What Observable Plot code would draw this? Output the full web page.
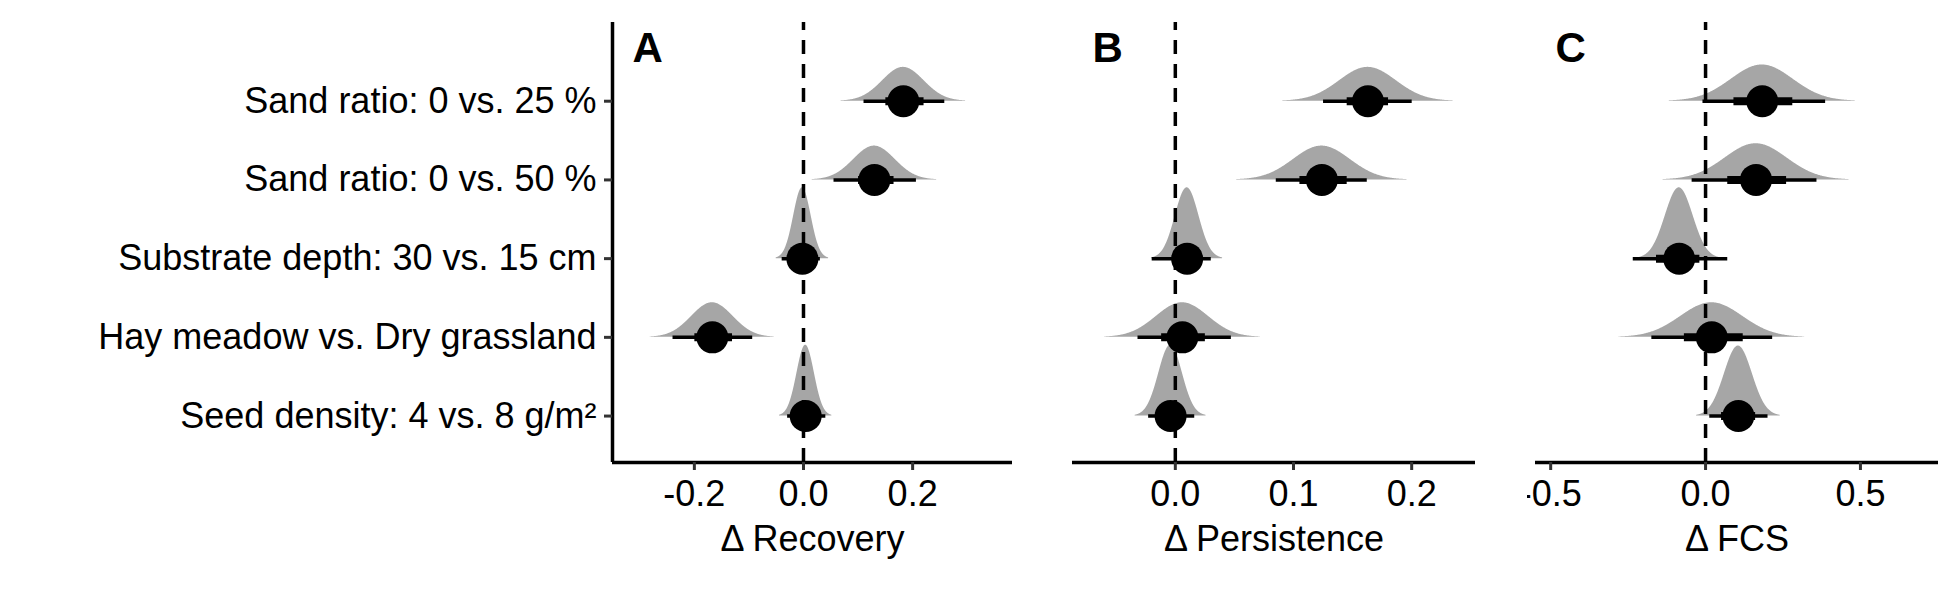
<!DOCTYPE html>
<html><head><meta charset="utf-8">
<script src="https://cdn.jsdelivr.net/npm/d3@7"></script>
<script src="https://cdn.jsdelivr.net/npm/@observablehq/plot@0.6"></script>
<style>
body{margin:0;background:#fff;font-family:"Liberation Sans",Arial,sans-serif;}
.p{position:absolute;top:0;}
</style></head><body>
<div id="a" class="p"></div><div id="b" class="p"></div><div id="c" class="p"></div>
<script>
const contrasts = ["Sand ratio: 0 vs. 25 %", "Sand ratio: 0 vs. 50 %", "Substrate depth: 30 vs. 15 cm", "Hay meadow vs. Dry grassland", "Seed density: 4 vs. 8 g/m²"];
const rows = [5, 4, 3, 2, 1];

// Recovery
const recMean = [0.183, 0.13, -0.002, -0.167, 0.004];
const recSd = [0.038, 0.038, 0.016, 0.038, 0.016];
const recLo95 = [0.11, 0.055, -0.04, -0.24, -0.03];
const recHi95 = [0.258, 0.206, 0.03, -0.094, 0.04];
const recLo66 = [0.15, 0.1, -0.02, -0.2, -0.012];
const recHi66 = [0.22, 0.165, 0.015, -0.131, 0.02];
const recPeak = [0.43, 0.43, 0.9, 0.44, 0.9];

// Persistence
const perMean = [0.163, 0.124, 0.01, 0.006, -0.004];
const perSd = [0.024, 0.024, 0.01, 0.022, 0.01];
const perLo95 = [0.125, 0.085, -0.02, -0.032, -0.023];
const perHi95 = [0.2, 0.162, 0.03, 0.047, 0.016];
const perLo66 = [0.145, 0.105, 0, -0.012, -0.012];
const perHi66 = [0.18, 0.145, 0.02, 0.025, 0.006];
const perPeak = [0.43, 0.43, 0.9, 0.44, 0.9];

// FCS
const fcsMean = [0.183, 0.163, -0.085, 0.02, 0.106];
const fcsSd = [0.1, 0.1, 0.045, 0.1, 0.045];
const fcsLo95 = [-0.01, -0.045, -0.235, -0.175, 0.012];
const fcsHi95 = [0.386, 0.358, 0.07, 0.215, 0.2];
const fcsLo66 = [0.09, 0.07, -0.16, -0.07, 0.05];
const fcsHi66 = [0.28, 0.26, -0.02, 0.12, 0.16];
const fcsPeak = [0.46, 0.46, 0.9, 0.44, 0.89];

const ydom = [0.41, 6];

function panel(sel, letter, title, mean, sd, lo95, hi95, lo66, hi66, peak, xdom, ticks, left, showY) {
  const summ = rows.map((r, i) => ({r, m: mean[i], lo95: lo95[i], hi95: hi95[i], lo66: lo66[i], hi66: hi66[i]}));
  const dens = [];
  rows.forEach((r, i) => {
    for (let k = -150; k <= 150; k++) {
      const x = mean[i] + sd[i] * k * 0.02;
      dens.push({r, x, h: r + peak[i] * Math.exp(-0.5 * (k * 0.02) ** 2)});
    }
  });
  const ml = showY ? 612 : 8;
  const w = ml + (showY ? 400 : 403) + 8;
  const chart = Plot.plot({
    width: w, height: 590,
    marginLeft: ml, marginRight: 8, marginTop: 22, marginBottom: 128,
    style: {fontFamily: "Liberation Sans, Arial, sans-serif", fontSize: "36px", color: "#000"},
    x: {domain: xdom},
    y: {domain: ydom},
    marks: [
      Plot.areaY(dens, {x: "x", y1: "r", y2: "h", z: "r", fill: "#a6a6a6", clip: true}),
      Plot.ruleX([0], {y1: ydom[0], y2: ydom[1], stroke: "#000", strokeWidth: 3.5, strokeDasharray: "14,10"}),
      Plot.link(summ, {x1: "lo95", x2: "hi95", y1: "r", y2: "r", stroke: "#000", strokeWidth: 3.5}),
      Plot.link(summ, {x1: "lo66", x2: "hi66", y1: "r", y2: "r", stroke: "#000", strokeWidth: 8}),
      Plot.dot(summ, {x: "m", y: "r", r: 16, fill: "#000"}),
      Plot.ruleY([ydom[0]], {stroke: "#000", strokeWidth: 3.5}),
      showY ? Plot.ruleX([xdom[0]], {y1: ydom[0], y2: ydom[1], stroke: "#000", strokeWidth: 3.5}) : null,
      Plot.axisX({ticks, tickFormat: d => d.toFixed(1), tickSize: 8, tickPadding: 10, stroke: "#333", strokeWidth: 3,
        label: title, labelAnchor: "center", labelArrow: "none", labelOffset: 88, fontSize: 36}),
      showY ? Plot.axisY({ticks: rows, tickFormat: d => contrasts[5 - d], tickSize: 8, tickPadding: 8, stroke: "#333", strokeWidth: 3, label: null, fontSize: 36}) : Plot.axisY({ticks: [], label: null}),
      Plot.text([letter], {frameAnchor: "top-left", dx: 20, dy: 10, fontSize: 42, fontWeight: "bold", lineAnchor: "top"})
    ]
  });
  const el = document.getElementById(sel);
  el.style.left = left + "px";
  el.append(chart);
}

panel("a", "A", "Δ Recovery", recMean, recSd, recLo95, recHi95, recLo66, recHi66, recPeak, [-0.35, 0.383], [-0.2, 0, 0.2], 0, true);
panel("b", "B", "Δ Persistence", perMean, perSd, perLo95, perHi95, perLo66, perHi66, perPeak, [-0.087, 0.254], [0, 0.1, 0.2], 1064, false);
panel("c", "C", "Δ FCS", fcsMean, fcsSd, fcsLo95, fcsHi95, fcsLo66, fcsHi66, fcsPeak, [-0.549, 0.752], [-0.5, 0, 0.5], 1527, false);
</script>
</body></html>
